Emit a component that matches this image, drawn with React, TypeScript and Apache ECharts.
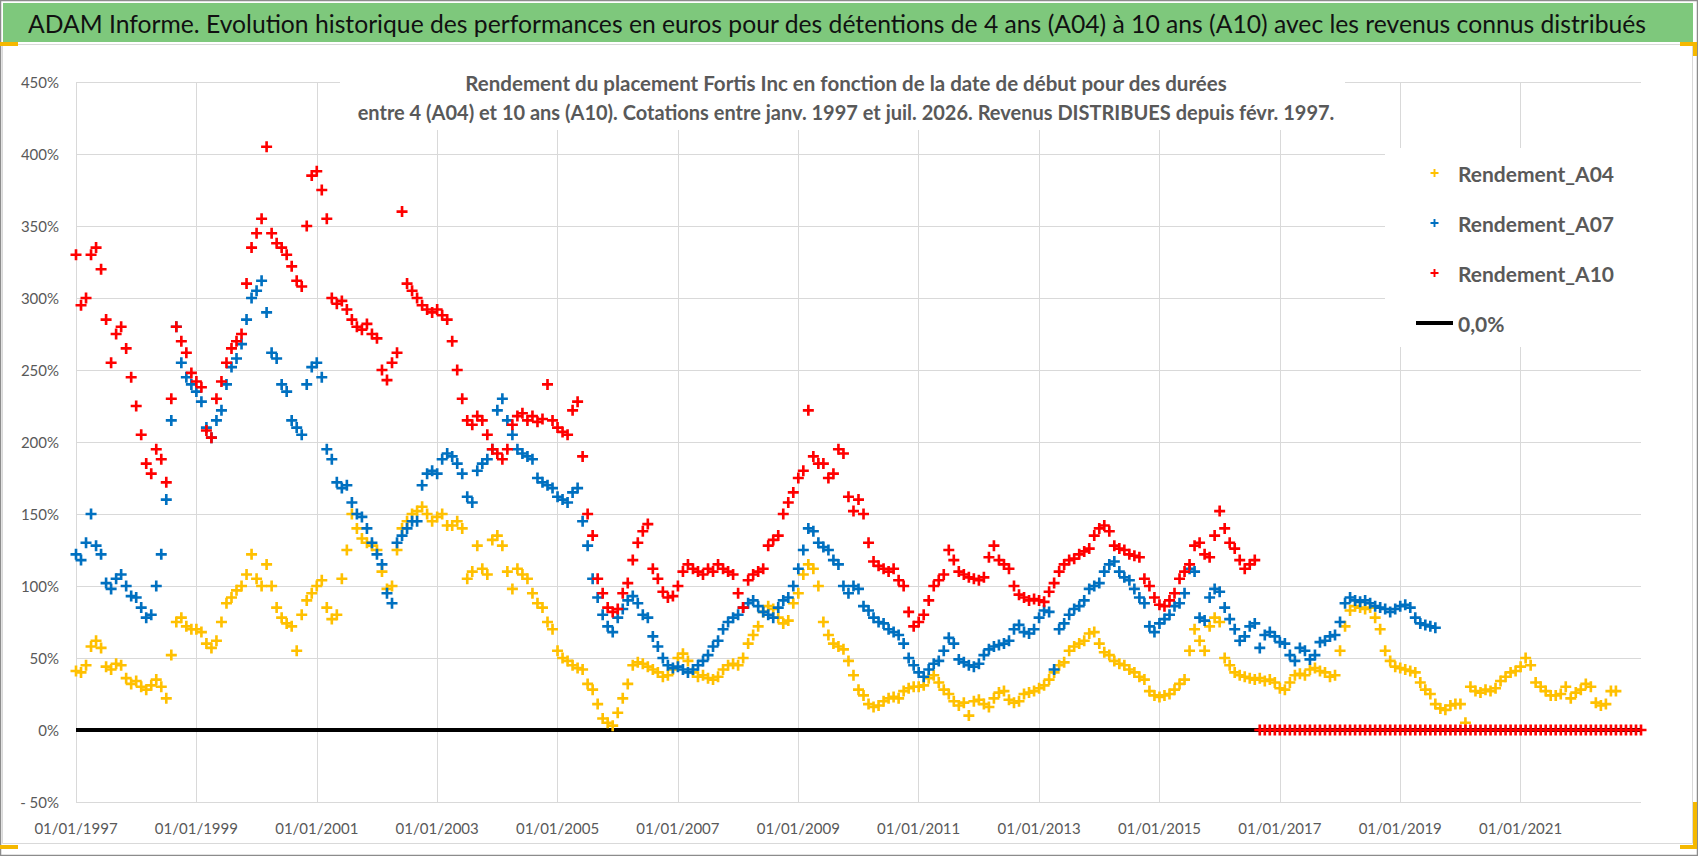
import React, { useEffect, useRef } from "react";
import * as echarts from "echarts";

// valeurs mensuelles (en %), a partir de janv. 1997
const rendementA04 = [
  41, 40, 45, 58, 62, 57, 44, 42, 46, 45, 36, 32, // 1997
  34, 30, 28, 31, 35, 30, 22, 52, 75, 78, 72, 70, // 1998
  70, 68, 60, 57, 62, 75, 88, 92, 97, 100, 108, 122, // 1999
  105, 100, 115, 100, 85, 78, 74, 72, 55, 80, 90, 95, // 2000
  100, 104, 85, 77, 80, 105, 125, 150, 140, 133, 130, 128, // 2001
  125, 110, 98, 100, 125, 140, 145, 150, 152, 155, 150, 145, // 2002
  148, 150, 142, 142, 145, 140, 105, 110, 128, 112, 108, 132, // 2003
  135, 128, 110, 98, 112, 108, 105, 95, 88, 85, 75, 70, // 2004
  55, 50, 48, 45, 43, 42, 32, 28, 18, 8, 5, 3, // 2005
  12, 22, 32, 45, 47, 46, 44, 42, 40, 37, 38, 42, // 2006
  50, 53, 48, 40, 37, 38, 36, 35, 37, 42, 45, 46, // 2007
  45, 50, 60, 66, 72, 82, 86, 84, 78, 74, 76, 88, // 2008
  95, 108, 115, 112, 100, 75, 66, 60, 58, 56, 48, 38, // 2009
  28, 24, 18, 16, 17, 20, 22, 23, 22, 27, 29, 30, // 2010
  30, 31, 36, 38, 33, 28, 25, 20, 17, 19, 10, 20, // 2011
  21, 18, 16, 22, 26, 27, 21, 19, 20, 25, 26, 27, // 2012
  29, 31, 35, 40, 45, 47, 55, 58, 60, 62, 67, 68, // 2013
  60, 54, 52, 48, 46, 45, 42, 40, 37, 35, 27, 24, // 2014
  23, 24, 25, 28, 32, 35, 55, 70, 62, 55, 72, 78, // 2015
  75, 50, 45, 40, 38, 37, 36, 35, 36, 34, 35, 33, // 2016
  29, 28, 33, 38, 39, 38, 42, 43, 41, 40, 37, 38, // 2017
  55, 72, 83, 86, 85, 84, 85, 78, 70, 55, 48, 44, // 2018
  43, 42, 41, 40, 33, 28, 25, 18, 15, 14, 17, 18, // 2019
  18, 5, 30, 27, 26, 28, 27, 29, 34, 37, 40, 41, // 2020
  44, 50, 45, 33, 30, 27, 24, 24, 25, 30, 22, 26, // 2021
  28, 32, 30, 19, 17, 18, 27, 27, // 2022
];

const rendementA07 = [
  122, 118, 130, 150, 128, 122, 102, 98, 105, 108, 100, 93, // 1997
  92, 85, 78, 80, 100, 122, 160, 215, 280, 255, 245, 240, // 1998
  235, 228, 210, 203, 215, 222, 240, 252, 258, 268, 285, 300, // 1999
  305, 312, 290, 262, 258, 240, 235, 215, 210, 205, 240, 252, // 2000
  255, 245, 195, 188, 172, 168, 170, 158, 150, 148, 140, 130, // 2001
  122, 115, 95, 88, 130, 135, 140, 145, 145, 170, 178, 180, // 2002
  178, 188, 192, 190, 185, 178, 162, 158, 180, 185, 188, 195, // 2003
  222, 230, 215, 205, 195, 192, 190, 188, 175, 172, 170, 168, // 2004
  162, 160, 158, 165, 168, 145, 128, 105, 92, 80, 72, 68, // 2005
  78, 84, 90, 93, 88, 80, 78, 65, 58, 50, 45, 43, // 2006
  44, 42, 40, 42, 45, 48, 52, 58, 62, 70, 75, 78, // 2007
  80, 85, 88, 90, 86, 82, 80, 78, 85, 90, 92, 100, // 2008
  112, 125, 140, 138, 130, 127, 125, 118, 115, 100, 95, 100, // 2009
  98, 86, 83, 78, 75, 74, 70, 68, 66, 60, 50, 45, // 2010
  40, 37, 42, 46, 48, 55, 64, 60, 49, 47, 45, 44, // 2011
  46, 52, 56, 58, 59, 60, 62, 70, 73, 68, 67, 70, // 2012
  78, 83, 82, 42, 70, 74, 80, 84, 86, 90, 98, 100, // 2013
  102, 110, 115, 117, 110, 106, 104, 98, 92, 88, 72, 68, // 2014
  74, 77, 80, 86, 88, 95, 112, 110, 78, 76, 92, 98, // 2015
  96, 85, 77, 70, 62, 65, 72, 74, 57, 66, 68, 65, // 2016
  61, 60, 52, 48, 57, 55, 49, 52, 61, 62, 65, 66, // 2017
  75, 88, 92, 90, 89, 90, 88, 86, 85, 84, 82, 84, // 2018
  86, 87, 85, 78, 74, 73, 72, 71, // 2019
];

const rendementA10 = [
  330, 295, 300, 330, 335, 320, 285, 255, 275, 280, 265, 245, // 1997
  225, 205, 185, 178, 195, 188, 172, 230, 280, 270, 262, 248, // 1998
  242, 238, 208, 203, 230, 242, 255, 265, 270, 275, 310, 335, // 1999
  345, 355, 405, 345, 338, 335, 330, 322, 312, 308, 350, 385, // 2000
  388, 375, 355, 300, 296, 298, 292, 285, 280, 278, 282, 275, // 2001
  272, 250, 243, 255, 262, 360, 310, 305, 300, 295, 292, 290, // 2002
  292, 288, 285, 270, 250, 230, 215, 212, 218, 215, 205, 195, // 2003
  192, 188, 195, 212, 218, 220, 215, 218, 214, 216, 240, 215, // 2004
  210, 207, 205, 222, 228, 190, 150, 135, 105, 95, 85, 82, // 2005
  84, 95, 102, 118, 130, 138, 143, 112, 105, 96, 92, 93, // 2006
  100, 110, 115, 112, 110, 108, 112, 110, 115, 112, 110, 108, // 2007
  95, 85, 104, 108, 110, 112, 128, 132, 135, 150, 158, 165, // 2008
  175, 180, 222, 190, 185, 185, 175, 178, 195, 192, 162, 152, // 2009
  160, 150, 130, 117, 114, 112, 110, 112, 104, 100, 82, 72, // 2010
  75, 80, 90, 100, 104, 108, 125, 118, 110, 108, 106, 105, // 2011
  104, 106, 120, 128, 118, 115, 112, 100, 94, 92, 90, 91, // 2012
  90, 89, 96, 102, 110, 115, 118, 119, 122, 124, 126, 135, // 2013
  140, 142, 138, 128, 126, 125, 122, 121, 120, 105, 100, 92, // 2014
  87, 86, 90, 95, 105, 110, 115, 128, 130, 122, 120, 135, // 2015
  152, 140, 130, 126, 118, 112, 115, 118, 0, 0, 0, 0, // 2016
  0, 0, 0, 0, 0, 0, 0, 0, 0, 0, 0, 0, // 2017
  0, 0, 0, 0, 0, 0, 0, 0, 0, 0, 0, 0, // 2018
  0, 0, 0, 0, 0, 0, 0, 0, 0, 0, 0, 0, // 2019
  0, 0, 0, 0, 0, 0, 0, 0, 0, 0, 0, 0, // 2020
  0, 0, 0, 0, 0, 0, 0, 0, 0, 0, 0, 0, // 2021
  0, 0, 0, 0, 0, 0, 0, 0, 0, 0, 0, 0, // 2022
  0, // 2023
];

const ligneZero = [
  [0, 0],
  [26, 0],
];

const startYear = 1997;
const yTicks = { min: -50, max: 450, step: 50 };

const plus = "path://M3.8,0H6.2V3.8H10V6.2H6.2V10H3.8V6.2H0V3.8H3.8Z";
const font = "Lato";

const toPoints = (arr: number[]) => arr.map((v, i) => [i / 12, v]);

const App = () => {
  const chartRef = useRef<HTMLDivElement>(null);

  useEffect(() => {
    document.body.style.margin = "0";
    if (!chartRef.current) return;
    const chart = echarts.init(chartRef.current, null, { renderer: "svg" });

    const scatter = (name: string, color: string, data: number[]) => ({
      name,
      type: "scatter",
      data: toPoints(data),
      symbol: plus,
      symbolSize: 11,
      itemStyle: { color, opacity: 1 },
      z: 2,
    });

    const option = {
      animation: false,
      backgroundColor: "#fff",
      grid: { left: 76, right: 57, top: 82, bottom: 54 },
      legend: {
        orient: "vertical",
        left: 1385,
        top: 148,
        padding: [13, 30, 12, 31],
        backgroundColor: "#fff",
        itemWidth: 37,
        itemHeight: 8,
        itemGap: 26,
        selectedMode: false,
        textStyle: {
          fontFamily: font,
          fontWeight: "bold",
          fontSize: 21,
          lineHeight: 24,
          color: "#595959",
        },
        data: [
          { name: "Rendement_A04", icon: plus },
          { name: "Rendement_A07", icon: plus },
          { name: "Rendement_A10", icon: plus },
          { name: "0,0%", icon: "path://M0,0H37V4H0Z" },
        ],
        z: 6,
      },
      xAxis: {
        type: "value",
        min: 0,
        max: 26,
        interval: 2,
        axisLine: { show: false },
        axisTick: { show: false },
        axisLabel: {
          margin: 18,
          fontFamily: font,
          fontSize: 15,
          color: "#595959",
          showMaxLabel: false,
          formatter: (v: number) => (v >= 26 ? "" : "01/01/" + (startYear + v)),
        },
        splitLine: {
          show: true,
          showMaxLine: false,
          lineStyle: { color: "#d9d9d9", width: 1 },
        },
      },
      yAxis: {
        type: "value",
        min: yTicks.min,
        max: yTicks.max,
        interval: yTicks.step,
        axisLine: { show: false },
        axisTick: { show: false },
        axisLabel: {
          margin: 17,
          fontFamily: font,
          fontSize: 15,
          color: "#595959",
          formatter: (v: number) => (v < 0 ? "- " + -v + "%" : v + "%"),
        },
        splitLine: { lineStyle: { color: "#d9d9d9", width: 1 } },
      },
      graphic: [
        // cadre
        {
          type: "rect",
          shape: { x: 0.5, y: 0.5, width: 1697, height: 855 },
          style: { fill: "none", stroke: "#8c8c8c", lineWidth: 1.5 },
          silent: true,
        },
        {
          type: "rect",
          shape: { x: 2.5, y: 44.5, width: 1690, height: 799 },
          style: { fill: "none", stroke: "#d9d9d9", lineWidth: 1 },
          silent: true,
        },
        // bandeau
        {
          type: "rect",
          shape: { x: 3, y: 3, width: 1690, height: 39 },
          style: { fill: "#7ec87c" },
          silent: true,
        },
        {
          type: "text",
          x: 28,
          y: 23,
          style: {
            text: "ADAM Informe. Evolution historique des performances en euros pour des détentions de 4 ans (A04) à 10 ans (A10) avec les revenus connus distribués",
            font: `24.7px ${font}`,
            fill: "#111",
            verticalAlign: "middle",
          },
          silent: true,
        },
        // marques orange
        { type: "rect", shape: { x: 0, y: 42, width: 18, height: 4 }, style: { fill: "#f5b800" }, silent: true },
        { type: "rect", shape: { x: 0, y: 845, width: 18, height: 4 }, style: { fill: "#f5b800" }, silent: true },
        {
          type: "polyline",
          shape: { points: [[1680, 44], [1695, 44], [1695, 56]] },
          style: { stroke: "#f5b800", lineWidth: 4, fill: "none" },
          silent: true,
        },
        {
          type: "polyline",
          shape: { points: [[1695, 802], [1695, 847], [1680, 847]] },
          style: { stroke: "#f5b800", lineWidth: 4, fill: "none" },
          silent: true,
        },
        // titre du graphique
        {
          type: "rect",
          shape: { x: 340, y: 62, width: 1005, height: 68 },
          style: { fill: "#fff" },
          z: 5,
          silent: true,
        },
        {
          type: "text",
          x: 846,
          y: 83,
          z: 6,
          style: {
            text: "Rendement du placement Fortis Inc en fonction de la date de début pour des durées",
            font: `bold 20.5px ${font}`,
            fill: "#595959",
            align: "center",
            verticalAlign: "middle",
          },
          silent: true,
        },
        {
          type: "text",
          x: 846,
          y: 112,
          z: 6,
          style: {
            text: "entre 4 (A04) et 10 ans (A10). Cotations entre janv. 1997 et juil. 2026. Revenus DISTRIBUES depuis févr. 1997.",
            font: `bold 20px ${font}`,
            fill: "#595959",
            align: "center",
            verticalAlign: "middle",
          },
          silent: true,
        },
      ],
      series: [
        {
          name: "0,0%",
          type: "line",
          data: ligneZero,
          showSymbol: false,
          lineStyle: { color: "#000", width: 4 },
          itemStyle: { color: "#000" },
          z: 1,
        },
        scatter("Rendement_A04", "#ffc000", rendementA04),
        scatter("Rendement_A07", "#0070c0", rendementA07),
        scatter("Rendement_A10", "#ff0000", rendementA10),
      ],
    };

    chart.setOption(option as any);
    return () => chart.dispose();
  }, []);

  return <div ref={chartRef} style={{ width: "1698px", height: "856px" }} />;
};

export default App;
